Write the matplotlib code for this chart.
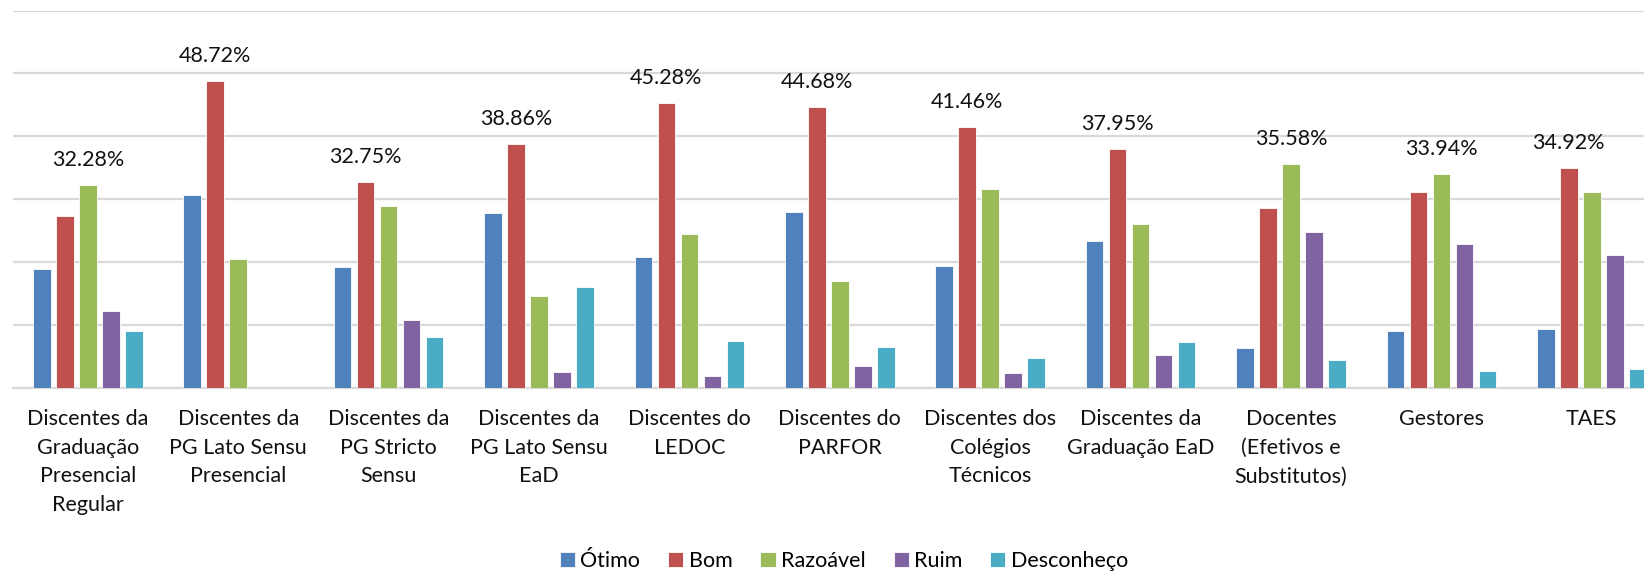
import matplotlib
matplotlib.use("Agg")
import matplotlib.pyplot as plt
import numpy as np

plt.rcParams['font.family'] = ['Lato', 'DejaVu Sans']

categories = [
    "Discentes da\nGraduação\nPresencial\nRegular",
    "Discentes da\nPG Lato Sensu\nPresencial",
    "Discentes da\nPG Stricto\nSensu",
    "Discentes da\nPG Lato Sensu\nEaD",
    "Discentes do\nLEDOC",
    "Discentes do\nPARFOR",
    "Discentes dos\nColégios\nTécnicos",
    "Discentes da\nGraduação EaD",
    "Docentes\n(Efetivos e\nSubstitutos)",
    "Gestores",
    "TAES",
]
series_names = ["Ótimo", "Bom", "Razoável", "Ruim", "Desconheço"]
otimo = [18.96, 30.75, 19.17, 27.77, 20.76, 28.04, 19.44, 23.31, 6.37, 9.13, 9.45]
bom = [27.30, 48.72, 32.75, 38.86, 45.28, 44.68, 41.46, 37.95, 28.62, 31.17, 34.92]
razoavel = [32.28, 20.45, 29.00, 14.66, 24.54, 17.05, 31.65, 26.13, 35.58, 33.94, 31.17]
ruim = [12.27, 0, 10.83, 2.50, 1.91, 3.50, 2.39, 5.26, 24.85, 22.89, 21.19]
desconheco = [9.13, 0, 8.13, 15.98, 7.54, 6.59, 4.83, 7.33, 4.51, 2.71, 3.08]
colors = ["#4F81BD", "#C0504D", "#9BBB59", "#8064A2", "#4BACC6"]

series = [otimo, bom, razoavel, ruim, desconheco]

W, H = 1644, 571
fig = plt.figure(figsize=(W / 100, H / 100), dpi=100)
left = 12.6 / W
bottom = 1 - 388 / H
top = 1 - 10.5 / H
ax = fig.add_axes([left, bottom, 1 - left, top - bottom])

x = np.arange(len(categories))
slot = 0.153
bw = 0.118
handles = []
for i, (vals, c, name) in enumerate(zip(series, colors, series_names)):
    b = ax.bar(x + (i - 2) * slot, vals, width=bw, color=c, label=name,
               edgecolor='white', linewidth=0.6, zorder=3)
    handles.append(b)

# data labels on the max bar of each group
data = np.array(series)
for j in range(len(categories)):
    k = int(np.argmax(data[:, j]))
    v = data[k, j]
    ax.annotate(f"{v:.2f}%", xy=(x[j] + (k - 2) * slot, v), xytext=(0, 25),
                textcoords='offset pixels', ha='center', va='center',
                fontsize=15.5, color='#111111')

ax.set_ylim(0, 60)
ax.set_xlim(-0.5, (W - 12.6) / 150.4 - 0.5)
ax.set_yticks(np.arange(0, 61, 10))
ax.yaxis.grid(True, color='#d9d9d9', linewidth=1.6, zorder=0)
ax.set_axisbelow(True)
ax.tick_params(axis='y', left=False, labelleft=False)
ax.tick_params(axis='x', length=0, pad=15)
for s in ['top', 'right', 'left']:
    ax.spines[s].set_visible(False)
ax.spines['bottom'].set_color('#d9d9d9')
ax.spines['bottom'].set_linewidth(1.6)
ax.set_xticks(x)
ax.set_xticklabels(categories, fontsize=15.5, linespacing=1.55, color='#111111')

fig.legend(handles=handles, labels=series_names, loc='center',
           bbox_to_anchor=(844 / W, 1 - 561 / H), ncol=5, frameon=False,
           fontsize=15.5, handlelength=0.7, handleheight=0.7,
           handletextpad=0.25, columnspacing=1.3)

fig.savefig("out.png", dpi=100)
